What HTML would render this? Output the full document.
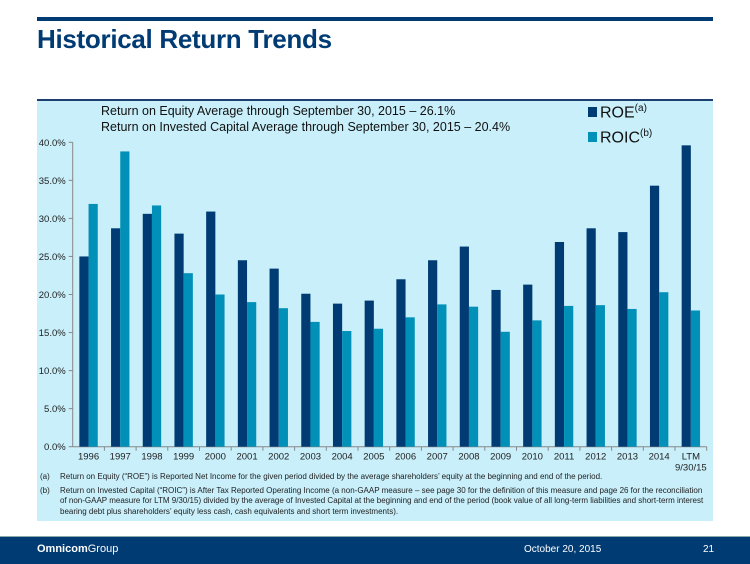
<!DOCTYPE html>
<html><head><meta charset="utf-8"><style>
body{margin:0;width:750px;height:563px;background:#fff;position:relative;overflow:hidden;font-family:"Liberation Sans",sans-serif}
.a{position:absolute}
</style></head><body>
<div class="a" style="left:37px;top:17px;width:676px;height:4px;background:#003b73"></div>
<div class="a" style="left:37px;top:24px;font-size:26px;font-weight:bold;color:#003b73;letter-spacing:-0.3px">Historical Return Trends</div>
<div class="a" style="left:37px;top:99px;width:676px;height:420px;background:#c8effa;border-top:2px solid #1d3f6e"></div>
<div class="a" style="left:101px;top:103px;font-size:12.5px;color:#111;line-height:16px">Return on Equity Average through September 30, 2015 – 26.1%<br>Return on Invested Capital Average through September 30, 2015 – 20.4%</div>
<div class="a" style="left:588px;top:103px;font-size:16px;color:#111"><span style="display:inline-block;width:9px;height:10px;background:#003b73;margin-right:3px"></span>ROE<sup style="font-size:10px">(a)</sup></div>
<div class="a" style="left:588px;top:128px;font-size:16px;color:#111"><span style="display:inline-block;width:9px;height:10px;background:#0090b8;margin-right:3px"></span>ROIC<sup style="font-size:10px">(b)</sup></div>
<svg class="a" style="left:0;top:0" width="750" height="563" id="chart"></svg>
<div class="a" style="left:40px;top:472px;width:664px;font-size:8px;color:#222;line-height:10.5px">
<div style="display:flex"><span style="width:20px;flex:none">(a)</span><span>Return on Equity (“ROE”) is Reported Net Income for the given period divided by the average shareholders’ equity at the beginning and end of the period.</span></div>
<div style="display:flex;margin-top:3px"><span style="width:20px;flex:none">(b)</span><span>Return on Invested Capital (“ROIC”) is After Tax Reported Operating Income (a non-GAAP measure – see page 30 for the definition of this measure and page 26 for the reconciliation of non-GAAP measure for LTM 9/30/15) divided by the average of Invested Capital at the beginning and end of the period (book value of all long-term liabilities and short-term interest bearing debt plus shareholders’ equity less cash, cash equivalents and short term investments).</span></div>
</div>
<div class="a" style="left:0;top:536px;width:750px;height:27px;background:#003b73;border-top:1px solid #8aa"></div>
<div class="a" style="left:37px;top:543px;font-size:11px;color:#fff"><b>Omnicom</b>Group</div>
<div class="a" style="left:524px;top:544px;font-size:10px;color:#fff">October 20, 2015</div>
<div class="a" style="left:703px;top:544px;font-size:10px;color:#fff">21</div>
<script>
const categories=["1996","1997","1998","1999","2000","2001","2002","2003","2004","2005","2006","2007","2008","2009","2010","2011","2012","2013","2014","LTM"];
const roe=[25.0,28.7,30.6,28.0,30.9,24.5,23.4,20.1,18.8,19.2,22.0,24.5,26.3,20.6,21.3,26.9,28.7,28.2,34.3,39.6];
const roic=[31.9,38.8,31.7,22.8,20.0,19.0,18.2,16.4,15.2,15.5,17.0,18.7,18.4,15.1,16.6,18.5,18.6,18.1,20.3,17.9];
const ticks=[0,5,10,15,20,25,30,35,40];
const svg=document.getElementById('chart');const NS='http://www.w3.org/2000/svg';
const x0=72.7,x1=706.7,y0=446.7,y40=142.3;
const yS=v=>y0-(v/40)*(y0-y40);
const bw=(x1-x0)/categories.length;
function mk(t,a){const e=document.createElementNS(NS,t);for(const k in a)e.setAttribute(k,a[k]);svg.appendChild(e);return e;}
let ax=mk('line',{x1:x0,y1:y40,x2:x0,y2:y0,stroke:'#888','stroke-width':1});

let bx=mk('line',{x1:x0,y1:y0,x2:x1,y2:y0,stroke:'#888','stroke-width':1});

ticks.forEach(t=>{const y=yS(t);mk('line',{x1:x0-4,y1:y,x2:x0,y2:y,stroke:'#888'});
const tx=mk('text',{x:x0-7,y:y+3.5,'text-anchor':'end','font-size':9.5,fill:'#222'});tx.textContent=t.toFixed(1)+'%';
});
categories.forEach((c,i)=>{const cx=x0+bw*(i+0.5),w=9.2;
mk('line',{x1:x0+bw*(i+1),y1:y0,x2:x0+bw*(i+1),y2:y0+4,stroke:'#888'});
const r1=mk('rect',{x:cx-w,y:yS(roe[i]),width:w,height:y0-yS(roe[i]),fill:'#003b73'});

const r2=mk('rect',{x:cx,y:yS(roic[i]),width:w,height:y0-yS(roic[i]),fill:'#0090b8'});

const t=mk('text',{x:cx,y:y0+13,'text-anchor':'middle','font-size':9.5,fill:'#222'});t.textContent=c;

if(c==='LTM'){const t2=mk('text',{x:cx,y:y0+24,'text-anchor':'middle','font-size':9.5,fill:'#222'});t2.textContent='9/30/15';
}
});
</script>
</body></html>
